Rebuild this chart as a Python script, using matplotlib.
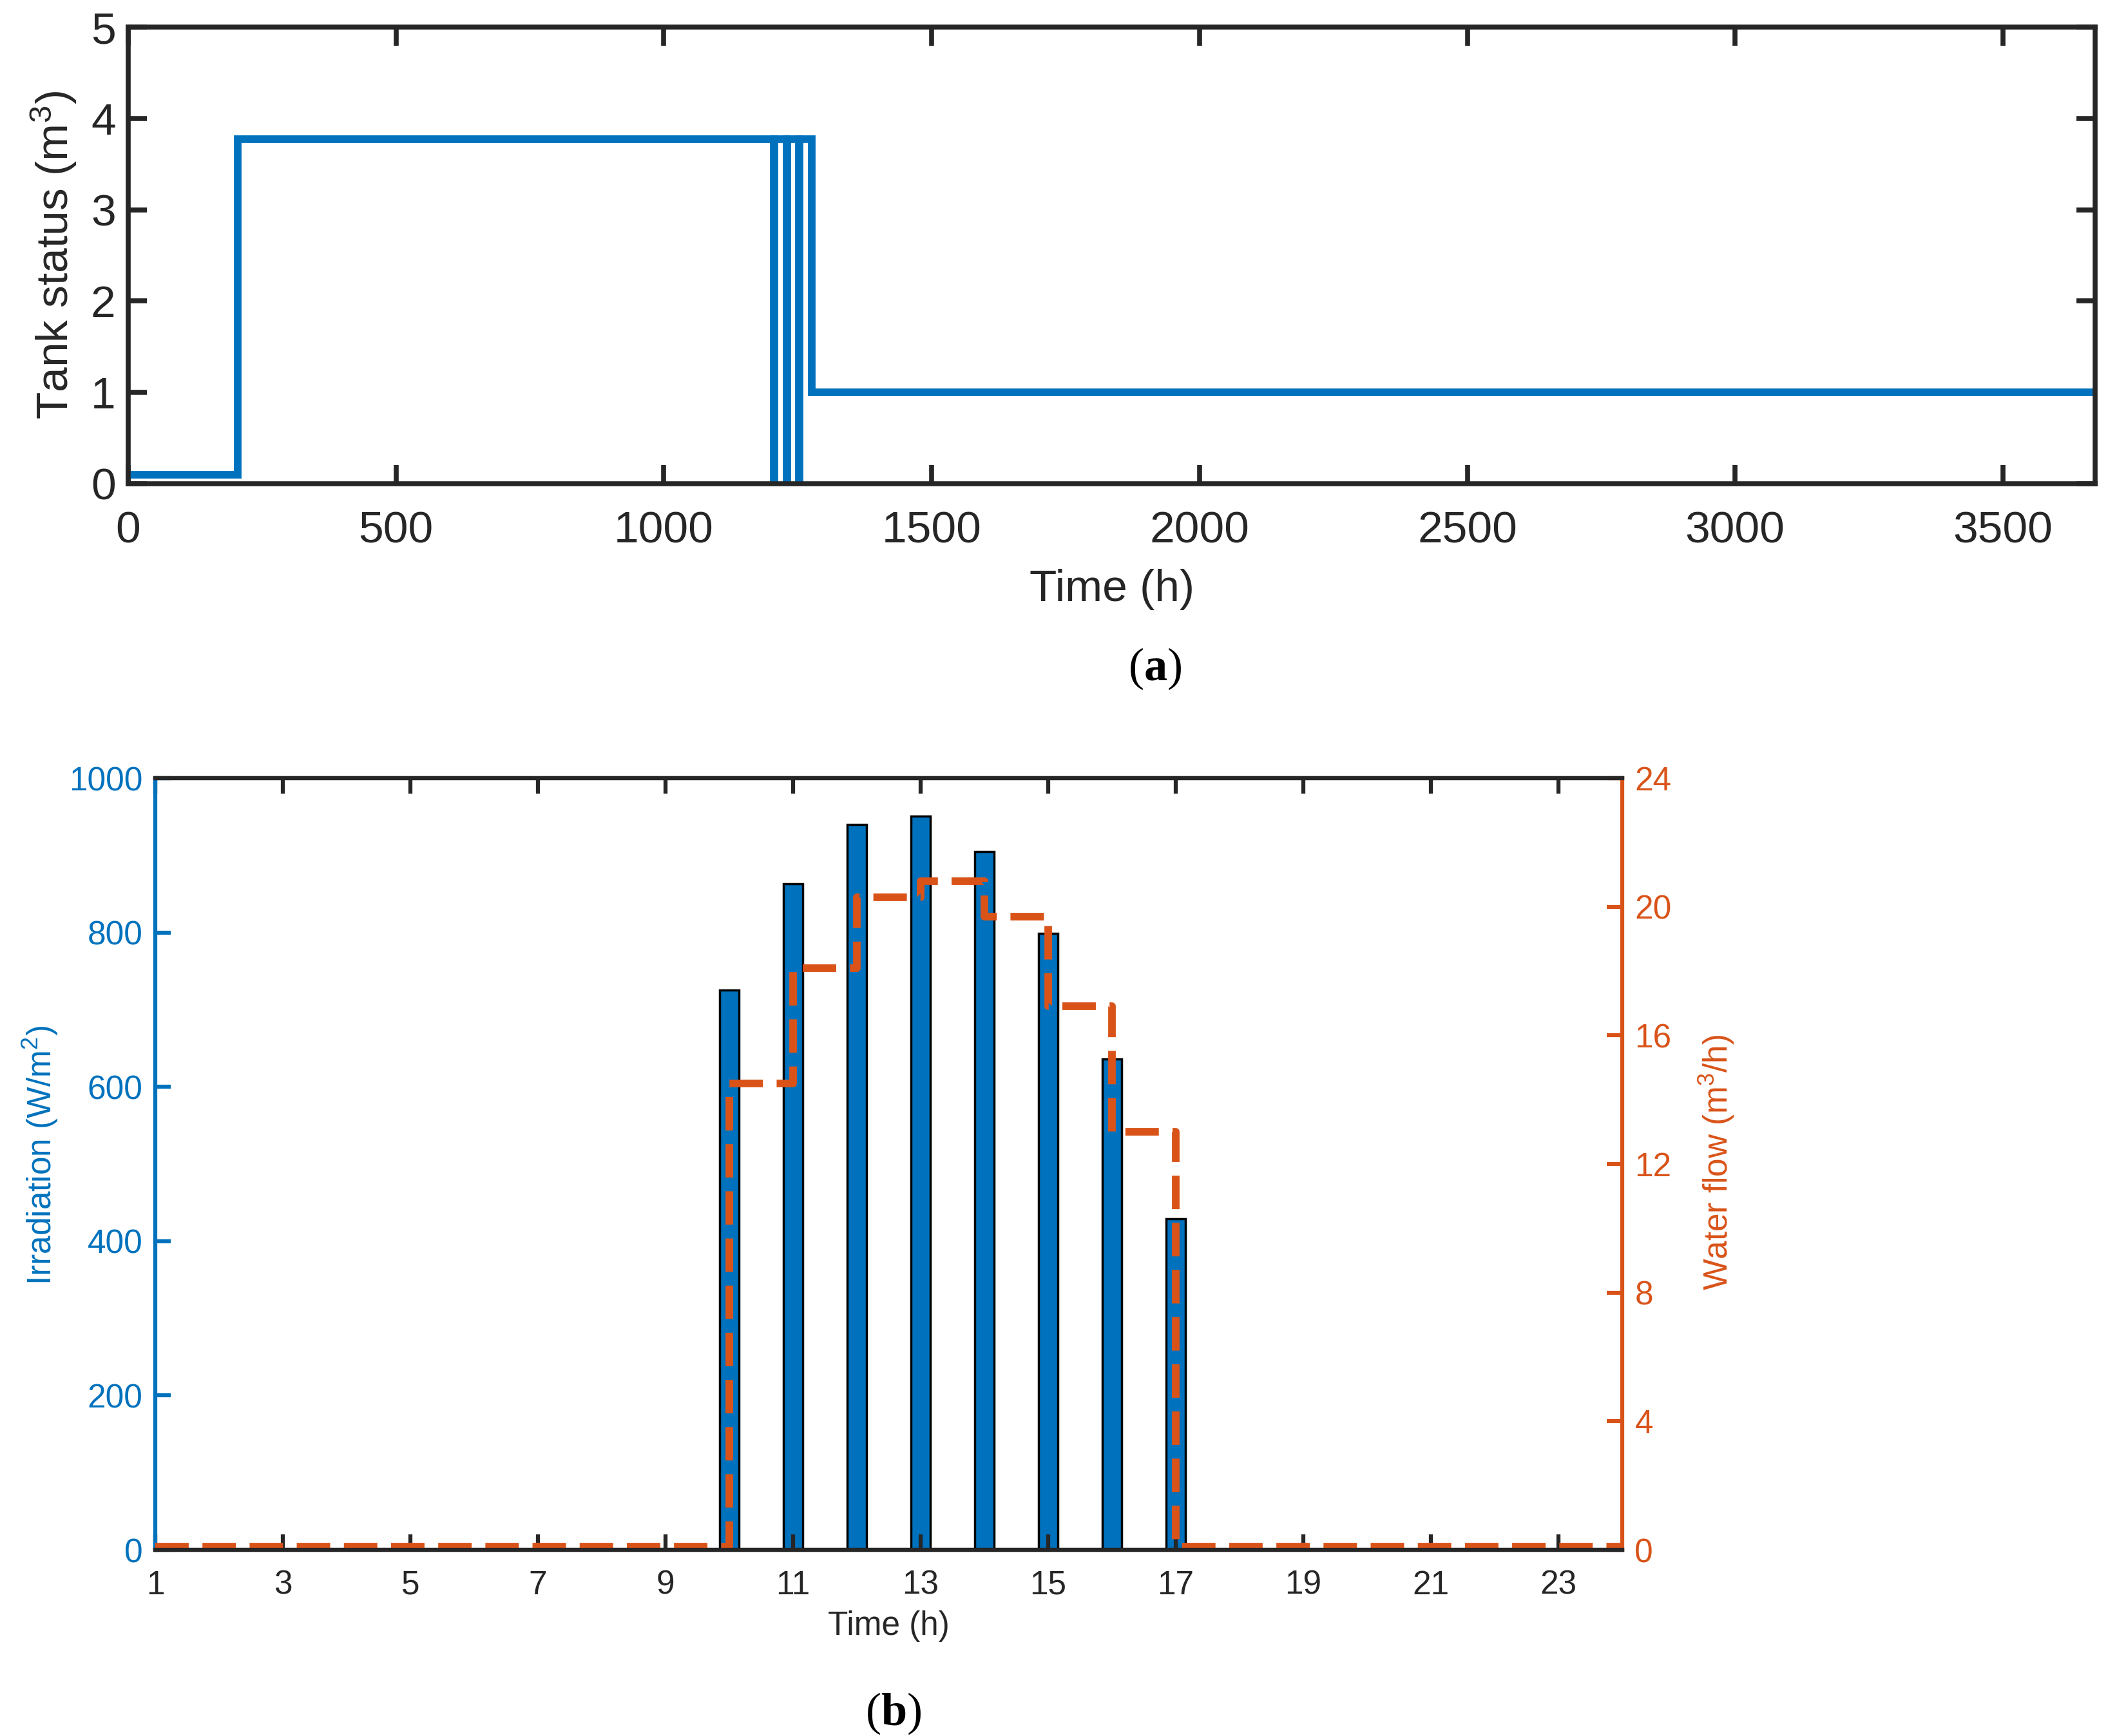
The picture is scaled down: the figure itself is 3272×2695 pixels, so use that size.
import matplotlib
matplotlib.use("Agg")
import matplotlib.pyplot as plt

plt.rcParams['font.family'] = ['Liberation Sans', 'DejaVu Sans']
plt.rcParams['mathtext.fontset'] = 'custom'
plt.rcParams['mathtext.rm'] = 'Liberation Sans'
plt.rcParams['mathtext.it'] = 'Liberation Sans:italic'
plt.rcParams['mathtext.bf'] = 'Liberation Serif:bold'

# ---------------- data ----------------
# (a) tank status, step breakpoints (time in h, volume in m3)
tank_time = [0, 204, 1205, 1206, 1229, 1230, 1252, 1253, 1276, 3672]
tank_level = [0.1, 3.77, 0.0, 3.77, 0.0, 3.77, 0.0, 3.77, 1.0, 1.0]
tank_xticks = [0, 500, 1000, 1500, 2000, 2500, 3000, 3500]
tank_yticks = [0, 1, 2, 3, 4, 5]

# (b) hourly irradiation and water flow
hours = list(range(1, 25))
irradiation = [0, 0, 0, 0, 0, 0, 0, 0, 0,
               725, 863, 940, 951, 905, 799, 636, 429,
               0, 0, 0, 0, 0, 0, 0]
water_flow = [0.1, 0.1, 0.1, 0.1, 0.1, 0.1, 0.1, 0.1, 0.1,
              14.5, 18.1, 20.3, 20.8, 19.7, 16.9, 13.0,
              0.1, 0.1, 0.1, 0.1, 0.1, 0.1, 0.1, 0.1]
b_xticks = list(range(1, 24, 2))
irr_ticks = [0, 200, 400, 600, 800, 1000]
flow_ticks = [0, 4, 8, 12, 16, 20, 24]

BLUE = '#0072BD'
ORANGE = '#D95319'
DARK = '#262626'

W, H = 3273, 2695
fig = plt.figure(figsize=(W / 100, H / 100), dpi=100)

# ---------------- panel (a) ----------------
ax = fig.add_axes([199 / W, 1 - 751 / H, (3252 - 199) / W, (751 - 42) / H])
ax.plot(tank_time, tank_level, drawstyle='steps-post', color=BLUE, lw=8.5,
        solid_joinstyle='miter')
ax.set_xlim(0, 3672)
ax.set_ylim(0, 5)
ax.set_xticks(tank_xticks)
ax.set_yticks(tank_yticks)
for s in ax.spines.values():
    s.set_linewidth(5.5)
    s.set_color(DARK)
ax.tick_params(axis='both', direction='in', top=True, right=True,
               length=21, width=5.5, color=DARK, labelsize=50, labelcolor=DARK)
ax.tick_params(axis='x', pad=30)
ax.tick_params(axis='y', pad=14)
ax.set_xlabel('Time (h)', fontsize=50, color=DARK, va='center')
ax.xaxis.set_label_coords(0.5, -0.231)
ax.set_ylabel(r'Tank status (m$^{3}$)', fontsize=50, color=DARK, va='center')
ax.yaxis.set_label_coords(-0.0377, 0.50)

fig.text(1793 / W, 1 - 1038 / H, r'($\mathbf{a}$)', family='Liberation Serif',
         fontsize=52, ha='center', va='center', color='black')

# ---------------- panel (b) ----------------
axb = fig.add_axes([241 / W, 1 - 2406 / H, (2518 - 241) / W, (2406 - 1208) / H])
axb.bar(hours, irradiation, width=0.3, color=BLUE, edgecolor='black', lw=2.5)
axb.set_xlim(1, 24)
axb.set_ylim(0, 1000)
axb.set_xticks(b_xticks)
axb.set_yticks(irr_ticks)

axr = axb.twinx()
axr.plot(hours, water_flow, drawstyle='steps-post', color=ORANGE, lw=8.5,
         ls=(0, (4.4, 1.8)))
axr.set_ylim(0, 24)
axr.set_yticks(flow_ticks)

for s in axb.spines.values():
    s.set_linewidth(4.5)
    s.set_color(DARK)
axb.spines['left'].set_color(BLUE)
axb.spines['right'].set_visible(False)
for s in axr.spines.values():
    s.set_linewidth(4.5)
    s.set_color(DARK)
axr.spines['left'].set_visible(False)
axr.spines['right'].set_color(ORANGE)

axb.tick_params(axis='x', direction='in', top=True, length=17, width=4.5,
                color=DARK, labelsize=37, labelcolor=DARK, pad=22)
axb.tick_params(axis='y', direction='in', length=17, width=4.5,
                color=BLUE, labelsize=37, labelcolor=BLUE, pad=14)
axr.tick_params(axis='y', direction='in', length=17, width=4.5,
                color=ORANGE, labelsize=37, labelcolor=ORANGE, pad=14)

axb.set_xlabel('Time (h)', fontsize=37, color=DARK, va='center')
axb.xaxis.set_label_coords(0.5, -0.0985)
axb.set_ylabel(r'Irradiation (W/m$^{2}$)', fontsize=37, color=BLUE, va='center')
axb.yaxis.set_label_coords(-0.0782, 0.511)
axr.set_ylabel(r'Water flow (m$^{3}$/h)', fontsize=37, color=ORANGE,
               va='center', rotation=90)
axr.yaxis.set_label_coords(1.0646, 0.502)

fig.text(1387 / W, 1 - 2660 / H, r'($\mathbf{b}$)', family='Liberation Serif',
         fontsize=52, ha='center', va='center', color='black')

fig.savefig('out.png', dpi=100, facecolor='white')
